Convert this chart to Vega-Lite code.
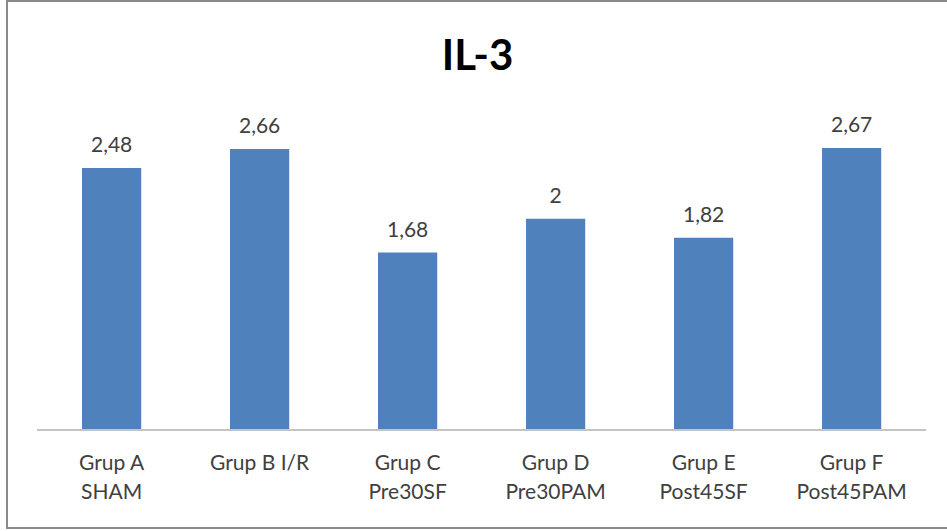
{
  "$schema": "https://vega.github.io/schema/vega-lite/v6.json",
  "width": 941,
  "height": 527,
  "autosize": {"type": "none"},
  "padding": {"left": 7, "top": 1, "right": 0, "bottom": 3},
  "background": "white",
  "title": {
    "text": "IL-3",
    "font": "Lato",
    "fontSize": 42,
    "fontWeight": "bold",
    "color": "#000000",
    "anchor": "middle",
    "baseline": "alphabetic",
    "offset": -111
  },
  "config": {
    "locale": {
      "number": {"decimal": ",", "thousands": ".", "grouping": [3], "currency": ["", ""]}
    },
    "view": {"stroke": "#8a8a8a", "strokeWidth": 2},
    "font": "Lato"
  },
  "data": {
    "values": [
      {"group": "Grup A|SHAM", "il3": 2.48},
      {"group": "Grup B I/R", "il3": 2.66},
      {"group": "Grup C|Pre30SF", "il3": 1.68},
      {"group": "Grup D|Pre30PAM", "il3": 2},
      {"group": "Grup E|Post45SF", "il3": 1.82},
      {"group": "Grup F|Post45PAM", "il3": 2.67}
    ]
  },
  "layer": [
    {
      "mark": {"type": "bar", "color": "#4F81BD"},
      "encoding": {
        "x": {
          "field": "group",
          "type": "nominal",
          "sort": null,
          "scale": {"paddingInner": 0.6, "paddingOuter": 0.479, "align": 0.529},
          "axis": {
            "title": null,
            "orient": "bottom",
            "offset": -98,
            "domain": false,
            "ticks": false,
            "labelAngle": 0,
            "labelExpr": "split(datum.value, '|')",
            "labelFont": "Lato",
            "labelFontSize": 21,
            "labelColor": "#404040",
            "labelBaseline": "top",
            "labelPadding": 22,
            "labelLineHeight": 29
          }
        },
        "y": {
          "field": "il3",
          "type": "quantitative",
          "scale": {"domain": [-0.928, 4.0625], "nice": false, "zero": false},
          "axis": null
        },
        "y2": {"datum": 0}
      }
    },
    {
      "data": {"values": [{"base": 0}]},
      "mark": {"type": "rule", "color": "#c4c4c4", "strokeWidth": 2},
      "encoding": {
        "x": {"datum": "Grup A|SHAM", "type": "nominal", "bandPosition": -0.76},
        "x2": {"datum": "Grup F|Post45PAM", "bandPosition": 1.757},
        "y": {"field": "base", "type": "quantitative"}
      }
    },
    {
      "mark": {
        "type": "text",
        "baseline": "alphabetic",
        "dy": -16,
        "font": "Lato",
        "fontSize": 21,
        "color": "#404040"
      },
      "encoding": {
        "x": {"field": "group", "type": "nominal", "sort": null},
        "y": {"field": "il3", "type": "quantitative"},
        "text": {"field": "il3", "type": "quantitative", "format": ".3~g"}
      }
    }
  ]
}
